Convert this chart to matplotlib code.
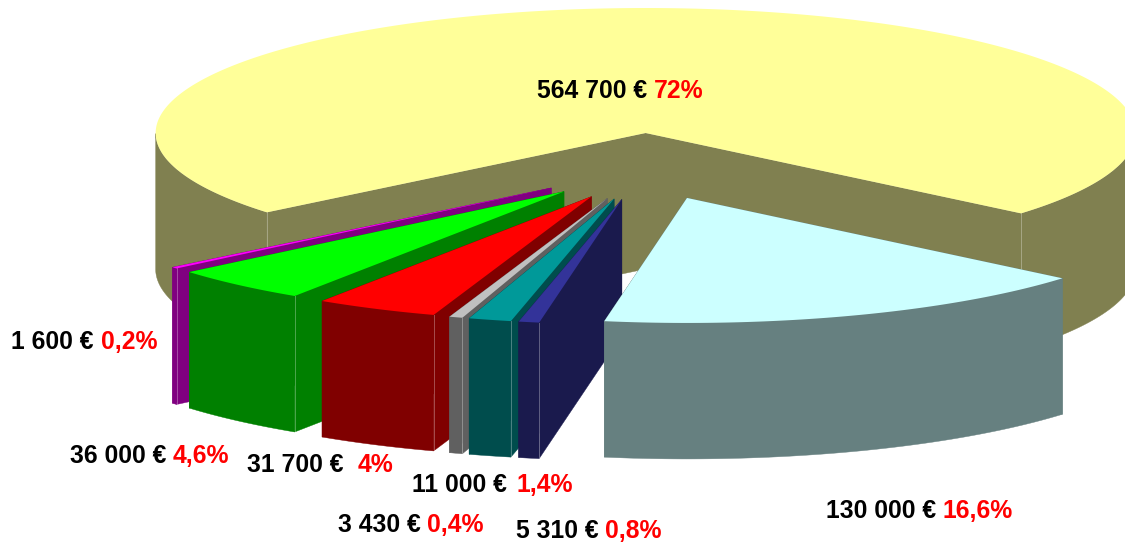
import numpy as np
import matplotlib
matplotlib.use('Agg')
import matplotlib.pyplot as plt
from matplotlib.patches import Polygon

plt.rcParams['font.family'] = ['Liberation Sans', 'DejaVu Sans']

# slices, clockwise from the cyan one (the yellow one closes the circle)
names = ['cyan', 'navy', 'teal', 'grey', 'red', 'green', 'purple', 'yellow']
values = [130000, 5310, 11000, 3430, 31700, 36000, 1600, 564700]
top_colors = ['#CCFFFF', '#333399', '#009999', '#C0C0C0', '#FF0000', '#00FF00', '#FF00FF', '#FFFF99']
wall_colors = ['#668080', '#1A1A4D', '#004D4D', '#606060', '#800000', '#008000', '#800080', '#808050']

amount_labels = ['130 000 € ', '5 310 € ', '11 000 € ', '3 430 € ', '31 700 € ', '36 000 € ', '1 600 € ', '564 700 € ']
percent_labels = ['16,6%', '0,8%', '1,4%', '0,4%', '4%', '4,6%', '0,2%', '72%']

# x of the amount, x of the percent, baseline y
label_places = [(826, 942, 518), (516, 605, 538), (412, 516, 492), (338, 427, 532),
                (247, 358, 472), (70, 173, 463), (11, 101, 349), (537, 654, 98)]

center_x, center_y = 645, 166.5
radius_x, radius_y = 490, 125
explode_x, explode_y = 122, 33.5
depth = 136
start_angle = 50.0

draw_order = ['yellow', 'purple', 'green', 'red', 'grey', 'teal', 'navy', 'cyan']


def slice_shapes(a0, a1):
    """a0 > a1, degrees from the front of the pie, positive to the right"""
    mid = np.radians((a0 + a1) / 2)
    apex = np.array([center_x + explode_x * np.sin(mid), center_y + explode_y * np.cos(mid)])
    t = np.radians(np.linspace(a0, a1, max(3, int(abs(a0 - a1) * 2))))
    arc = np.column_stack([apex[0] + radius_x * np.sin(t), apex[1] + radius_y * np.cos(t)])
    return apex, arc, t


def front_runs(arc, t):
    # only the part of the rim that faces the viewer gets a wall
    facing = np.cos(t) >= 0
    runs = []
    start = None
    for k, f in enumerate(facing):
        if f and start is None:
            start = k
        if start is not None and (not f or k == len(facing) - 1):
            runs.append(arc[start:k + 1 if f else k])
            start = None
    return runs


fractions = np.array(values) / sum(values)
edges = start_angle - np.concatenate([[0], np.cumsum(fractions) * 360])
down = np.array([0, depth])

fig = plt.figure(figsize=(11.25, 5.42), dpi=100)
ax = fig.add_axes([0, 0, 1, 1])
ax.set_xlim(0, 1125)
ax.set_ylim(542, 0)
ax.axis('off')

for z, name in enumerate(draw_order, start=2):
    i = names.index(name)
    apex, arc, t = slice_shapes(edges[i], edges[i + 1])
    wall = wall_colors[i]
    for run in front_runs(arc, t):
        ax.add_patch(Polygon(np.vstack([run, run[::-1] + down]), fc=wall, ec=wall, lw=0.3, zorder=z))
    if edges[i] - edges[i + 1] > 180:
        # big slice: both cut faces in one polygon, so no seam shows at the apex
        ax.add_patch(Polygon([arc[0], apex, arc[-1], arc[-1] + down, apex + down, arc[0] + down],
                             fc=wall, ec=wall, lw=0.3, zorder=z))
    else:
        for corner in (arc[0], arc[-1]):
            ax.add_patch(Polygon([apex, corner, corner + down, apex + down], fc=wall, ec=wall, lw=0.3, zorder=z))
    # thin pale seam where the cut face meets the round wall
    seams = [arc[0], arc[-1]] if name == 'yellow' else ([] if name == 'cyan' else [arc[0]])
    for s in seams:
        ax.plot([s[0], s[0]], [s[1], s[1] + depth], color='white', lw=0.7, alpha=0.3, zorder=z)
    ax.add_patch(Polygon(np.vstack([[apex], arc]), fc=top_colors[i], ec='none', zorder=z))

for amount, percent, place in zip(amount_labels, percent_labels, label_places):
    ax.text(place[0], place[2], amount, color='black', fontsize=17.8, fontweight='bold', va='baseline', zorder=20)
    ax.text(place[1], place[2], percent, color='red', fontsize=17.8, fontweight='bold', va='baseline', zorder=20)

fig.savefig('out.png', dpi=100)
